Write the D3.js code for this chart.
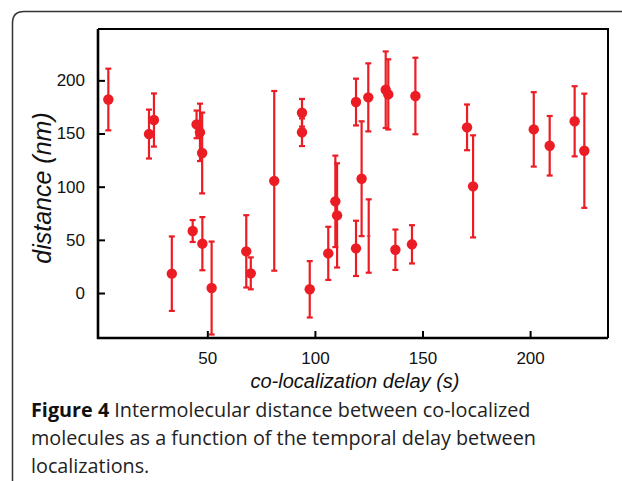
<!DOCTYPE html>
<html><head><meta charset="utf-8">
<script src="https://cdn.jsdelivr.net/npm/d3@7"></script>
<style>html,body{margin:0;padding:0;background:#fff;}svg{display:block;}</style>
</head><body>
<script>
// delay (s), distance (nm), error (nm)
const delays    = [4.0, 22.9, 25.2, 45.0, 46.6, 47.6, 81.1, 94.0, 94.0, 33.5, 43.2, 47.7, 52.0, 68.1, 70.2, 97.6, 106.2, 109.5, 110.3, 119.1, 121.7, 119.1, 124.8, 132.9, 134.1, 146.7, 137.4, 145.1, 170.7, 173.5, 201.7, 209.1, 220.7, 225.2, 125.0];
const distances = [182, 149.5, 162.7, 158.6, 151.1, 131.7, 105.5, 169.5, 151.2, 18.2, 58.3, 46.4, 4.7, 39.2, 18.5, 3.5, 37.3, 86.2, 73.0, 42.0, 107.5, 179.6, 184.0, 191.2, 186.8, 185.3, 40.7, 45.8, 155.8, 100.3, 153.9, 138.5, 161.5, 133.8, 53.6];
const errors    = [29, 23, 25, 13, 27, 38, 84.5, 13, 13, 35, 10.3, 25, 43.7, 34, 15, 26.5, 25, 43, 49, 26, 54, 22, 32, 36, 33, 36, 19, 18, 21.5, 48, 35, 28, 33, 53.7, 34.5];
const showDot   = [1,1,1,1,1,1,1,1,1,1,1,1,1,1,1,1,1,1,1,1,1,1,1,1,1,1,1,1,1,1,1,1,1,1,0];
const xTicks = [50, 100, 150, 200];
const yTicks = [0, 50, 100, 150, 200];
const xTitle = "co-localization delay (s)";
const yTitle = "distance (nm)";
const captionBold = "Figure 4";
const captionLines = [" Intermolecular distance between co-localized", "molecules as a function of the temporal delay between", "localizations."];

const W = 622, H = 481;
const svg = d3.select("body").append("svg").attr("width", W).attr("height", H);

// outer panel border
svg.append("path")
  .attr("d", "M12.5,481 L12.5,23 Q12.5,11.5 24,11.5 L622,11.5")
  .attr("fill", "none").attr("stroke", "#333").attr("stroke-width", 1.5);

const L = 98, R = 608, T = 29, B = 338;
const x = d3.scaleLinear().domain([-0.8, 236.2]).range([L, R]);
const y = d3.scaleLinear().domain([-42.3, 248.3]).range([B, T]);

const red = "#ec1c24";
const g = svg.append("g");
const pts = delays.map((d, i) => ({x: d, y: distances[i], e: errors[i], dot: showDot[i]}));

// error bars
const eb = g.selectAll("g.eb").data(pts).enter().append("g").attr("class", "eb")
  .attr("stroke", red).attr("stroke-width", 2.2);
eb.append("line").attr("x1", d => x(d.x)).attr("x2", d => x(d.x))
  .attr("y1", d => y(d.y + d.e)).attr("y2", d => y(d.y - d.e));
eb.append("line").attr("x1", d => x(d.x) - 3).attr("x2", d => x(d.x) + 3)
  .attr("y1", d => y(d.y + d.e)).attr("y2", d => y(d.y + d.e));
eb.append("line").attr("x1", d => x(d.x) - 3).attr("x2", d => x(d.x) + 3)
  .attr("y1", d => y(d.y - d.e)).attr("y2", d => y(d.y - d.e));
eb.filter(d => !d.dot).append("line").attr("x1", d => x(d.x) - 2).attr("x2", d => x(d.x) + 2)
  .attr("y1", d => y(d.y)).attr("y2", d => y(d.y)).attr("stroke-width", 1);

g.selectAll("circle").data(pts.filter(d => d.dot)).enter().append("circle")
  .attr("cx", d => x(d.x)).attr("cy", d => y(d.y)).attr("r", 5.2).attr("fill", red);

// frame top/right
svg.append("path").attr("d", `M${L},${T} L${R},${T} L${R},${B}`)
  .attr("fill", "none").attr("stroke", "#000").attr("stroke-width", 2);

// axes with inward ticks
const xAxis = svg.append("g").attr("transform", `translate(0,${B})`)
  .call(d3.axisBottom(x).tickValues(xTicks).tickSize(-7).tickPadding(14).tickSizeOuter(0));
const yAxis = svg.append("g").attr("transform", `translate(${L},0)`)
  .call(d3.axisLeft(y).tickValues(yTicks).tickSize(-7).tickPadding(13).tickSizeOuter(0));
[xAxis, yAxis].forEach(a => {
  a.select(".domain").attr("stroke", "#000").attr("stroke-width", 2.6);
  a.selectAll(".tick line").attr("stroke", "#000").attr("stroke-width", 2);
  a.selectAll("text").attr("font-family", "Liberation Sans, Arial, sans-serif").attr("font-size", 17).attr("fill", "#111");
});
xAxis.selectAll("text").attr("dy", "0.71em");
xAxis.select(".domain").attr("d", `M${L-1},0H${R}`);
yAxis.select(".domain").attr("d", `M0,${B+1}V${T}`);

svg.append("text").attr("x", 355).attr("y", 388).attr("text-anchor", "middle")
  .attr("font-family", "Liberation Sans, Arial, sans-serif").attr("font-style", "italic")
  .attr("font-size", 20).attr("fill", "#111").text(xTitle);
svg.append("text").attr("transform", "translate(51,188) rotate(-90)").attr("text-anchor", "middle")
  .attr("font-family", "Liberation Sans, Arial, sans-serif").attr("font-style", "italic")
  .attr("font-size", 25).attr("fill", "#111").text(yTitle);

// caption
const cap = svg.append("g").attr("font-family", "Open Sans, Noto Sans, sans-serif").attr("font-size", 19.8).attr("fill", "#222");
const t0 = cap.append("text").attr("x", 31).attr("y", 417);
t0.append("tspan").attr("font-weight", "bold").attr("fill", "#111").text(captionBold);
t0.append("tspan").text(captionLines[0]);
captionLines.slice(1).forEach((s, i) => {
  cap.append("text").attr("x", 31).attr("y", 445 + i * 27.5).text(s);
});
</script>
</body></html>
